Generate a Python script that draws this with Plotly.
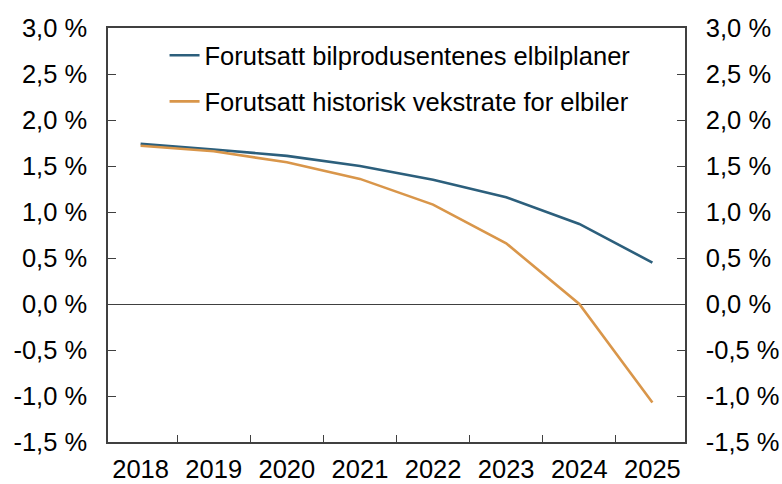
import plotly.graph_objects as go

years = ["2018", "2019", "2020", "2021", "2022", "2023", "2024", "2025"]
planer = [1.74, 1.68, 1.61, 1.50, 1.35, 1.16, 0.87, 0.45]
historisk = [1.72, 1.66, 1.54, 1.36, 1.08, 0.66, 0.00, -1.07]

names = ["Forutsatt bilprodusentenes elbilplaner",
         "Forutsatt historisk vekstrate for elbiler"]
colors = ["#2C5F7C", "#D9964A"]

yticks = [-1.5, -1.0, -0.5, 0.0, 0.5, 1.0, 1.5, 2.0, 2.5, 3.0]
ytext = [f"{v:.1f} %".replace(".", ",") for v in yticks]

FONT = "Liberation Sans, Arial, sans-serif"
AX = "#404040"
FS = 25.5

fig = go.Figure()
for i, (vals, name, col) in enumerate(zip([planer, historisk], names, colors)):
    fig.add_trace(go.Scatter(x=years, y=vals, mode="lines", name=name,
                             legendgroup=f"g{i}",
                             line=dict(color=col, width=2.6)))
# invisible trace to carry the right-hand axis
fig.add_trace(go.Scatter(x=years, y=[None] * len(years), yaxis="y2",
                         showlegend=False, hoverinfo="skip"))

yax = dict(range=[-1.5, 3.0], tickvals=yticks, ticktext=ytext,
           ticks="inside", ticklen=8, tickcolor=AX, tickwidth=1.2,
           showgrid=False, showline=True, linecolor=AX, linewidth=1.5,
           ticklabelstandoff=14, automargin=False,
           tickfont=dict(size=FS, color="black", family=FONT))

fig.update_layout(
    width=782, height=484,
    margin=dict(l=108, r=97, t=28, b=42),
    paper_bgcolor="white", plot_bgcolor="white",
    font=dict(family=FONT, color="black"),
    showlegend=True,
    legend=dict(x=0.098, y=0.99, xanchor="left", yanchor="top",
                bgcolor="rgba(0,0,0,0)", traceorder="grouped",
                tracegroupgap=10, font=dict(size=FS, family=FONT)),
    xaxis=dict(type="category", tickson="boundaries", ticks="inside",
               ticklen=7, tickcolor=AX, tickwidth=1.2,
               showgrid=False, showline=True, mirror=True,
               linecolor=AX, linewidth=1.5, automargin=False,
               ticklabelstandoff=4,
               tickfont=dict(size=FS, color="black", family=FONT)),
    yaxis=dict(**yax, zeroline=True, zerolinecolor=AX, zerolinewidth=1.2,
               side="left"),
    yaxis2=dict(**yax, zeroline=False, overlaying="y", side="right"),
)

# page body margin would shift the figure by 8 px
fig.write_html("out.html", config={"displayModeBar": False},
               post_script="document.body.style.margin='0';")
